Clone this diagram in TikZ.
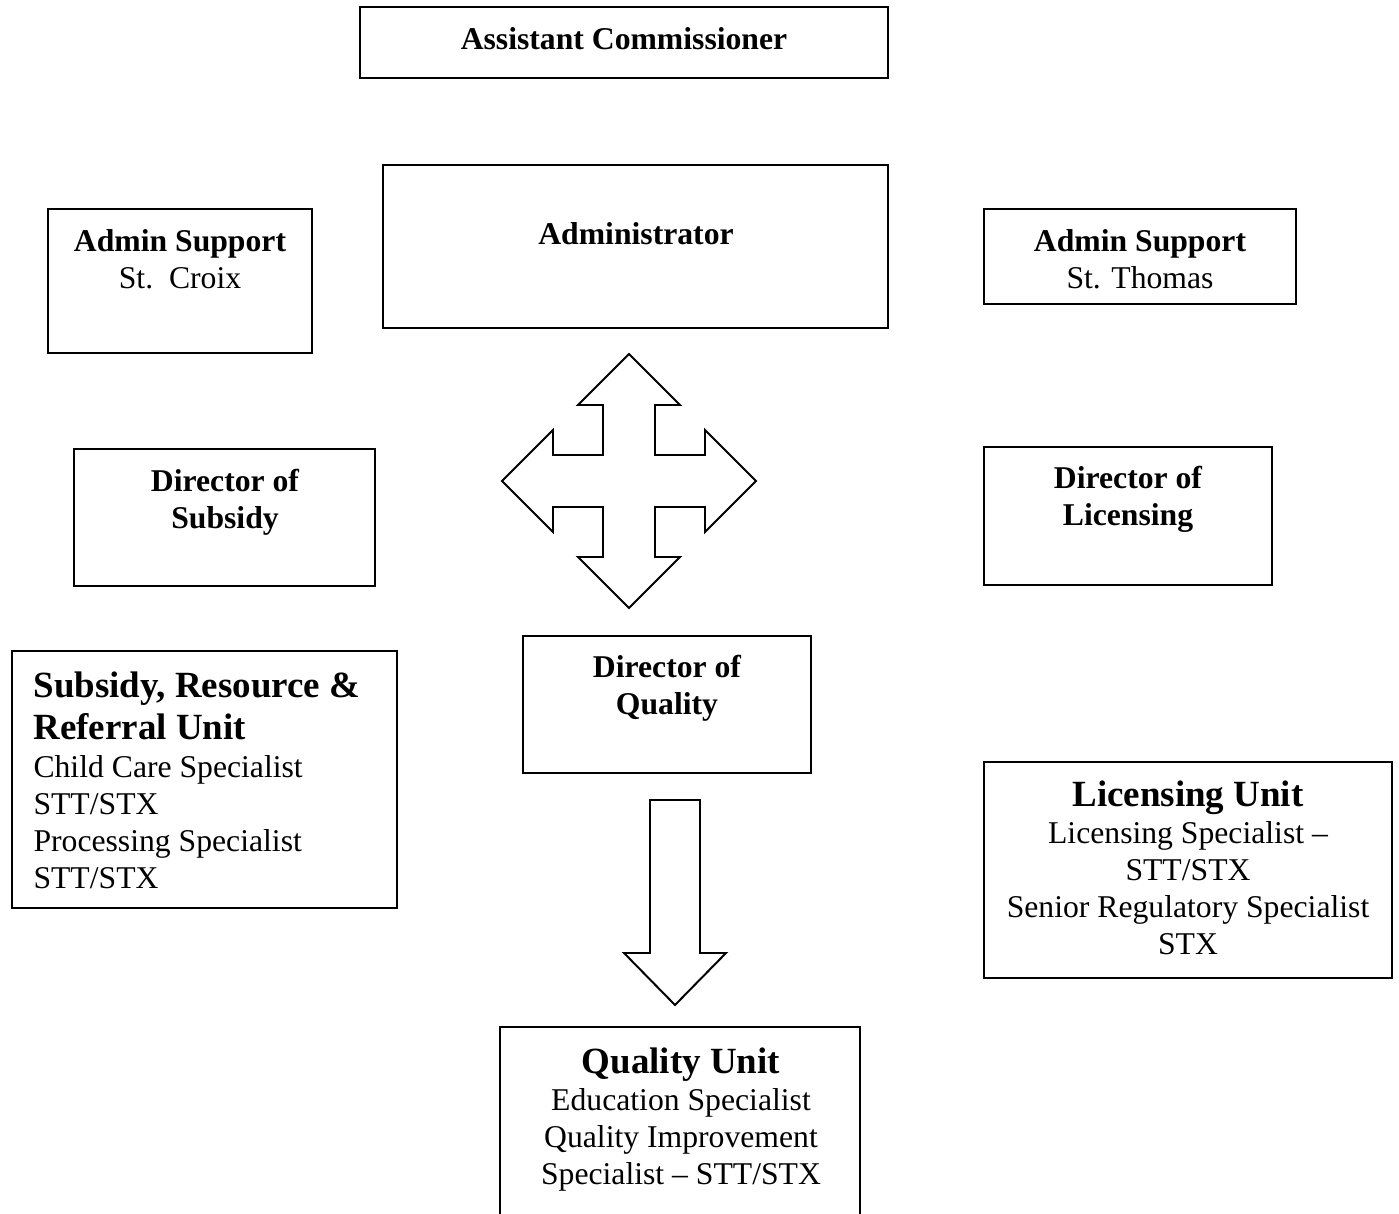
\documentclass[tikz,border=0pt]{standalone}
\usepackage{fontspec}
\setmainfont{Liberation Serif}
\usetikzlibrary{positioning, fit}
\tikzset{
  orgbox/.style   ={rectangle, draw=black, line width=0.75pt, inner sep=0pt},
  headtxt/.style  ={font=\fontsize{12}{14}\selectfont\bfseries, align=center, anchor=north, inner sep=0pt},
  unittxt/.style  ={font=\fontsize{12}{14}\selectfont, align=center, anchor=north, inner sep=0pt},
  blockarrow/.style={draw=black, line width=0.75pt, line join=miter, fill=white},
}
\newcommand{\unithead}[1]{{\fontsize{14}{15.5}\selectfont\bfseries #1}}

\begin{document}
\begin{tikzpicture}[x=0.3788pt, y=-0.3788pt]
    \useasboundingbox (0,0) rectangle (1399,1214);
    % boxes
    \node[orgbox, fit={(360,7) (888,78)}] (ac) {};
    \node[orgbox, fit={(383,165) (888,328)}] (adm) {};
    \node[orgbox, fit={(48,209) (312,353)}] (supx) {};
    \node[orgbox, fit={(984,209) (1296,304)}] (supt) {};
    \node[orgbox, fit={(74,449) (375,586)}] (dsub) {};
    \node[orgbox, fit={(984,447) (1272,585)}] (dlic) {};
    \node[orgbox, fit={(523,636) (811,773)}] (dq) {};
    \node[orgbox, fit={(12,651) (397,908)}] (srr) {};
    \node[orgbox, fit={(984,762) (1392,978)}] (lic) {};
    \node[orgbox, fit={(500,1027) (860,1240)}] (qu) {};
    % texts
    \node[headtxt] (actxt) at (624,27) {Assistant Commissioner};
    \node[headtxt] (admtxt) at (636,222) {Administrator};
    \node[headtxt] (supxtxt) at (180,229) {Admin Support\\\mdseries St.\ \ Croix};
    \node[headtxt] (supttxt) at (1140,229) {Admin Support\\\mdseries St. Thomas};
    \node[headtxt] (dsubtxt) at (225,469) {Director of\\Subsidy};
    \node[headtxt] (dlictxt) at (1128,466) {Director of\\Licensing};
    \node[headtxt] (dqtxt) at (667,655) {Director of\\Quality};
    \node[unittxt, align=left, anchor=north west] (srrtxt) at (33,671.5)
      {\unithead{Subsidy, Resource \&}\\[1.9pt]\unithead{Referral Unit}\\[0.4pt]Child Care Specialist\\STT/STX\\Processing Specialist\\STT/STX};
    \node[unittxt] (lictxt) at (1188,780.5)
      {\unithead{Licensing Unit}\\Licensing Specialist --\\STT/STX\\Senior Regulatory Specialist\\STX};
    \node[unittxt] (qutxt) at (681,1047)
      {\unithead{Quality Unit}\\Education Specialist\\Quality Improvement\\Specialist -- STT/STX};
    % block arrows
    \coordinate (hub) at (629,481);
    \draw[blockarrow, shift={(hub)}] (0,-127) -- (51,-76) -- (26,-76) -- (26,-26) -- (76,-26) -- (76,-51)
      -- (127,0) -- (76,51) -- (76,26) -- (26,26) -- (26,76) -- (51,76) -- (0,127) -- (-51,76)
      -- (-26,76) -- (-26,26) -- (-76,26) -- (-76,51) -- (-127,0) -- (-76,-51) -- (-76,-26)
      -- (-26,-26) -- (-26,-76) -- (-51,-76) -- cycle;
    \coordinate (dntop) at (675,800);
    \draw[blockarrow, shift={(dntop)}] (-25,0) -- (25,0) -- (25,153) -- (51,153) -- (0,205)
      -- (-51,153) -- (-25,153) -- cycle;
\end{tikzpicture}
\end{document}
